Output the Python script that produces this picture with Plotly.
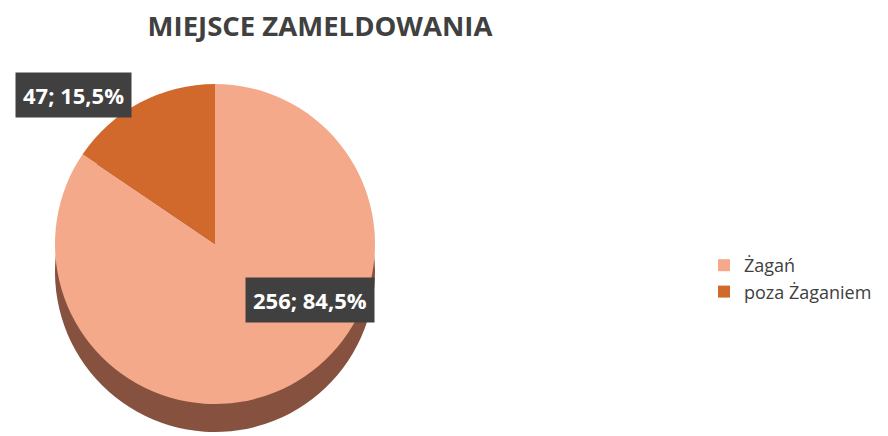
import plotly.graph_objects as go

labels = ["Żagań", "poza Żaganiem"]
values = [256, 47]
colors = ["#F4A98A", "#D2692C"]
side_colors = ["#86523F", "#744634"]
title_text = "MIEJSCE ZAMELDOWANIA"

# the page body adds an 8px margin, so the figure is 8px smaller on each side
OFF = 8
W, H = 888 - OFF, 436 - OFF
total = sum(values)
label_texts = [f"{v}; {v / total * 100:.1f}%".replace(".", ",") for v in values]

def px2x(px):
    return (px - OFF) / W

def px2y(py):
    return 1 - (py - OFF) / H

def dom(cx, cy, r):
    return dict(x=[px2x(cx - r), px2x(cx + r)], y=[px2y(cy + r), px2y(cy - r)])

r = 160
cx, cy = 215, 244
depth = 28

fig = go.Figure()
# side (depth) of the pie
fig.add_trace(go.Pie(
    labels=labels, values=values, sort=False, direction="clockwise", rotation=0,
    marker=dict(colors=side_colors, line=dict(width=0)),
    textinfo="none", hoverinfo="skip", showlegend=False,
    domain=dom(cx, cy + depth, r),
))
# top face
fig.add_trace(go.Pie(
    labels=labels, values=values, sort=False, direction="clockwise", rotation=0,
    marker=dict(colors=colors, line=dict(width=0)),
    textinfo="none", showlegend=True,
    domain=dom(cx, cy, r),
))

label_pos = [(310, 300), (73, 95)]
for (px, py), t in zip(label_pos, label_texts):
    fig.add_annotation(
        x=px2x(px), y=px2y(py), xref="paper", yref="paper", text=f"<b>{t}</b>",
        xanchor="center", yanchor="middle",
        showarrow=False, bgcolor="#404040", borderpad=7,
        font=dict(family="Open Sans", size=22, color="white"),
    )

fig.update_layout(
    width=W, height=H, paper_bgcolor="white", plot_bgcolor="white",
    margin=dict(l=0, r=0, t=0, b=0),
    title=dict(text=f"<b>{title_text}</b>", x=px2x(320), xanchor="center", y=px2y(26), yanchor="middle",
               font=dict(family="Open Sans", size=27.5, color="#404040")),
    legend=dict(x=px2x(704), y=px2y(247), xanchor="left", yanchor="top",
                font=dict(family="Open Sans", size=18, color="#404040"), bgcolor="rgba(0,0,0,0)"),
)

fig.write_html("out.html")
